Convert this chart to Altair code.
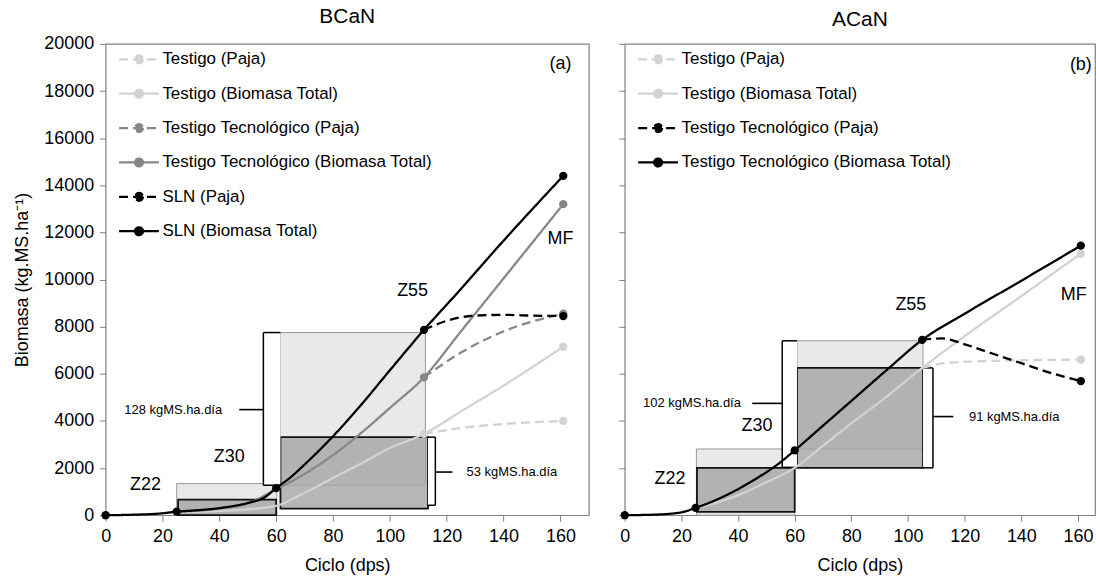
import altair as alt
import pandas as pd

FONT = "Liberation Sans"
LIGHT = "#d2d2d2"
MID = "#878787"
BLACK = "#000000"
DASH = [9, 5]
SOLID = [1, 0]

# ---------------- Panel (a) BCaN ----------------
a_series = ["Testigo (Paja)", "Testigo (Biomasa Total)", "Testigo Tecnológico (Paja)",
            "Testigo Tecnológico (Biomasa Total)", "SLN (Paja)", "SLN (Biomasa Total)"]
a_colors = [LIGHT, LIGHT, MID, MID, BLACK, BLACK]
a_dashes = [DASH, SOLID, DASH, SOLID, DASH, SOLID]
a_days = {
    "Testigo (Paja)": [112, 125, 140, 161],
    "Testigo (Biomasa Total)": [25, 40, 50, 60, 70, 80, 90, 100, 112, 125, 140, 161],
    "Testigo Tecnológico (Paja)": [112, 125, 140, 161],
    "Testigo Tecnológico (Biomasa Total)": [25, 40, 50, 60, 70, 80, 90, 100, 112, 125, 140, 161],
    "SLN (Paja)": [112, 120, 130, 140, 150, 161],
    "SLN (Biomasa Total)": [0, 10, 20, 25, 30, 40, 50, 56, 60, 65, 70, 80, 90, 100, 112, 125, 140, 161],
}
a_vals = {
    "Testigo (Paja)": [3450, 3700, 3870, 4000],
    "Testigo (Biomasa Total)": [120, 180, 250, 400, 950, 1580, 2200, 2850, 3450, 4400, 5500, 7150],
    "Testigo Tecnológico (Paja)": [5850, 6900, 7800, 8550],
    "Testigo Tecnológico (Biomasa Total)": [150, 280, 500, 1100, 1750, 2550, 3500, 4550, 5850, 7800, 10050, 13200],
    "SLN (Paja)": [7865, 8250, 8470, 8500, 8470, 8450],
    "SLN (Biomasa Total)": [0, 20, 80, 150, 190, 300, 520, 760, 1150, 1600, 2150, 3350, 4700, 6150, 7865, 9600, 11650, 14400],
}
a_marker_days = {
    "Testigo (Paja)": [161],
    "Testigo (Biomasa Total)": [112, 161],
    "Testigo Tecnológico (Paja)": [161],
    "Testigo Tecnológico (Biomasa Total)": [112, 161],
    "SLN (Paja)": [161],
    "SLN (Biomasa Total)": [0, 25, 60, 112, 161],
}
a_box_kind = ["light", "dark", "light", "dark"]
a_box_x0 = [25, 25.5, 61.5, 61.5]
a_box_x1 = [60.2, 60, 112.5, 113.4]
a_box_y0 = [0, 0, 1270, 280]
a_box_y1 = [1340, 660, 7750, 3310]
a_brace_xv = [55.5, 116]
a_brace_xh = [61.5, 113.4]
a_brace_xt = [47, 122]
a_brace_ytop = [7750, 3310]
a_brace_ybot = [1270, 420]
a_brace_ymid = [4480, 1830]
a_rate_text = ["128 kgMS.ha.día", "53 kgMS.ha.día"]
a_rate_x = [41, 127]
a_rate_y = [4480, 1830]
a_rate_align = ["right", "left"]
a_lab_text = ["Z22", "Z30", "Z55", "MF", "(a)"]
a_lab_x = [14, 43.5, 108, 160, 160]
a_lab_y = [1300, 2470, 9500, 11700, 19150]

# ---------------- Panel (b) ACaN ----------------
b_series = ["Testigo (Paja)", "Testigo (Biomasa Total)", "Testigo Tecnológico (Paja)",
            "Testigo Tecnológico (Biomasa Total)"]
b_colors = [LIGHT, LIGHT, BLACK, BLACK]
b_dashes = [DASH, SOLID, DASH, SOLID]
b_days = {
    "Testigo (Paja)": [105, 113, 130, 161],
    "Testigo (Biomasa Total)": [25, 30, 40, 50, 60, 70, 80, 90, 105, 120, 140, 161],
    "Testigo Tecnológico (Paja)": [105, 112, 120, 130, 140, 150, 161],
    "Testigo Tecnológico (Biomasa Total)": [0, 10, 20, 25, 35, 45, 55, 60, 70, 80, 92.7, 105, 120, 140, 161],
}
b_vals = {
    "Testigo (Paja)": [6250, 6450, 6550, 6600],
    "Testigo (Biomasa Total)": [310, 450, 850, 1400, 2010, 2950, 3900, 4800, 6250, 7600, 9300, 11100],
    "Testigo Tecnológico (Paja)": [7440, 7500, 7250, 6850, 6450, 6050, 5690],
    "Testigo Tecnológico (Biomasa Total)": [0, 20, 120, 310, 800, 1450, 2250, 2750, 3800, 4850, 6185, 7440, 8550, 9950, 11440],
}
b_marker_days = {
    "Testigo (Paja)": [161],
    "Testigo (Biomasa Total)": [161],
    "Testigo Tecnológico (Paja)": [161],
    "Testigo Tecnológico (Biomasa Total)": [0, 25, 60, 105, 161],
}
b_box_kind = ["light", "dark", "light", "dark"]
b_box_x0 = [25.3, 25.5, 60.8, 60.8]
b_box_x1 = [60, 60, 105.3, 105.3]
b_box_y0 = [0, 140, 2810, 2010]
b_box_y1 = [2810, 2010, 7400, 6250]
b_brace_xv = [55.6, 108.8]
b_brace_xh = [60.8, 105.3]
b_brace_xt = [45, 116]
b_brace_ytop = [7400, 6250]
b_brace_ybot = [2030, 2010]
b_brace_ymid = [4745, 4185]
b_rate_text = ["102 kgMS.ha.día", "91 kgMS.ha.día"]
b_rate_x = [41, 121.5]
b_rate_y = [4745, 4185]
b_rate_align = ["right", "left"]
b_lab_text = ["Z22", "Z30", "Z55", "MF", "(b)"]
b_lab_x = [16, 46.7, 101, 158.5, 161]
b_lab_y = [1545, 3790, 8915, 9335, 19100]

x_ticks = list(range(0, 161, 20))
y_ticks = list(range(0, 20001, 2000))

LEG_PATH = "M-1,0L1,0M0.2,0A0.2,0.2,0,1,1,-0.2,0A0.2,0.2,0,1,1,0.2,0Z"


def panel(series, colors, dashes, days, vals, mdays, boxes, braces, rates, labels,
          title, xmax, width, show_y):
    curve_rows, mark_rows = [], []
    for s in series:
        for d, v in zip(days[s], vals[s]):
            curve_rows.append({"series": s, "dia": d, "biomasa": v})
            if d in mdays[s]:
                mark_rows.append({"series": s, "dia": d, "biomasa": v})
    curves = pd.DataFrame(curve_rows)
    marks = pd.DataFrame(mark_rows)

    kind, bx0, bx1, by0, by1 = boxes
    box_df = pd.DataFrame({"kind": kind, "x0": bx0, "x1": bx1, "y0": by0, "y1": by1})
    xv, xh, xt, ytop, ybot, ymid = braces
    brace_df = pd.DataFrame({"xv": xv, "xh": xh, "xt": xt, "ytop": ytop, "ybot": ybot, "ymid": ymid})
    rt, rx, ry, ra = rates
    rate_df = pd.DataFrame({"t": rt, "x": rx, "y": ry, "align": ra})
    lt, lx, ly = labels
    lab_df = pd.DataFrame({"t": lt, "x": lx, "y": ly})

    xs = alt.Scale(domain=[0, xmax], nice=False, zero=False)
    ys = alt.Scale(domain=[0, 20000], nice=False)
    xaxis = alt.Axis(values=x_ticks, title="Ciclo (dps)", grid=False, labelFlush=False)
    if show_y:
        yaxis = alt.Axis(values=y_ticks, format="d", title="Biomasa (kg.MS.ha⁻¹)",
                         grid=False, labelFlush=False)
    else:
        yaxis = alt.Axis(values=y_ticks, labels=False, title=None, grid=False)

    def X(f):
        return alt.X(f, type="quantitative", scale=xs, axis=xaxis)

    def Y(f):
        return alt.Y(f, type="quantitative", scale=ys, axis=yaxis)

    leg = alt.Legend(title=None, orient="none", legendX=12, legendY=-6,
                     symbolType=LEG_PATH, symbolSize=1600, symbolStrokeWidth=2.2,
                     labelFont=FONT, labelFontSize=17, labelColor="black",
                     labelOffset=2, rowPadding=4.5, padding=0, labelLimit=400)

    light = alt.Chart(box_df).transform_filter(alt.datum.kind == "light").mark_rect(
        fill="#e9e9e9", stroke="#9a9a9a", strokeWidth=1).encode(
        x=X("x0"), x2="x1", y=Y("y0"), y2="y1")
    dark = alt.Chart(box_df).transform_filter(alt.datum.kind == "dark").mark_rect(
        fill="#a6a6a6", fillOpacity=0.82, stroke="#111111", strokeWidth=1.8).encode(
        x=X("x0"), x2="x1", y=Y("y0"), y2="y1")
    brace_bg = alt.Chart(brace_df).mark_rect(fill="white", strokeWidth=0).encode(
        x=X("xv"), x2="xh", y=Y("ytop"), y2="ybot")
    brace_v = alt.Chart(brace_df).mark_rule(color="black", strokeWidth=1.5).encode(
        x=X("xv"), y=Y("ytop"), y2="ybot")
    brace_top = alt.Chart(brace_df).mark_rule(color="black", strokeWidth=1.5).encode(
        x=X("xv"), x2="xh", y=Y("ytop"))
    brace_bot = alt.Chart(brace_df).mark_rule(color="black", strokeWidth=1.5).encode(
        x=X("xv"), x2="xh", y=Y("ybot"))
    tip = alt.Chart(brace_df).mark_rule(color="black", strokeWidth=1.6).encode(
        x=X("xv"), x2="xt", y=Y("ymid"))

    lines = alt.Chart(curves).mark_line(strokeWidth=2.3, interpolate="monotone").encode(
        x=X("dia"), y=Y("biomasa"),
        stroke=alt.Stroke("series:N", scale=alt.Scale(domain=series, range=colors), legend=leg),
        strokeDash=alt.StrokeDash("series:N", scale=alt.Scale(domain=series, range=dashes), legend=leg),
    )
    pts = alt.Chart(marks).mark_point(filled=True, size=70, opacity=1).encode(
        x=X("dia"), y=Y("biomasa"),
        fill=alt.Fill("series:N", scale=alt.Scale(domain=series, range=colors), legend=leg),
    )

    rate_layers = []
    for al in ["left", "right"]:
        rate_layers.append(
            alt.Chart(rate_df).transform_filter(alt.datum.align == al).mark_text(
                font=FONT, fontSize=13, align=al, baseline="middle", color="black").encode(
                x=X("x"), y=Y("y"), text="t:N"))
    labs = alt.Chart(lab_df).mark_text(font=FONT, fontSize=18, align="center",
                                       baseline="middle", color="black").encode(
        x=X("x"), y=Y("y"), text="t:N")

    return alt.layer(light, dark, brace_bg, brace_v, brace_top, brace_bot, tip,
                     lines, pts, *rate_layers, labs).properties(
        width=width, height=473,
        title=alt.TitleParams(title, font=FONT, fontSize=21, fontWeight="normal", color="black", offset=8))


pa = panel(a_series, a_colors, a_dashes, a_days, a_vals, a_marker_days,
           (a_box_kind, a_box_x0, a_box_x1, a_box_y0, a_box_y1),
           (a_brace_xv, a_brace_xh, a_brace_xt, a_brace_ytop, a_brace_ybot, a_brace_ymid),
           (a_rate_text, a_rate_x, a_rate_y, a_rate_align),
           (a_lab_text, a_lab_x, a_lab_y),
           "BCaN", 170, 485, True)
pb = panel(b_series, b_colors, b_dashes, b_days, b_vals, b_marker_days,
           (b_box_kind, b_box_x0, b_box_x1, b_box_y0, b_box_y1),
           (b_brace_xv, b_brace_xh, b_brace_xt, b_brace_ytop, b_brace_ybot, b_brace_ymid),
           (b_rate_text, b_rate_x, b_rate_y, b_rate_align),
           (b_lab_text, b_lab_x, b_lab_y),
           "ACaN", 166, 472, False)

chart = alt.hconcat(pa, pb, spacing=27).resolve_scale(
    stroke="independent", fill="independent", strokeDash="independent",
    x="independent", y="independent",
).properties(
    padding={"left": 13, "top": 4, "right": 0, "bottom": 5},
    background="white",
).configure_view(
    stroke="#808080", strokeWidth=1.2
).configure_axis(
    labelFont=FONT, labelFontSize=18, labelColor="black",
    titleFont=FONT, titleFontSize=18, titleFontWeight="normal", titleColor="black",
    tickColor="#808080", tickSize=6, domain=False, labelPadding=6, titlePadding=12,
)

chart.save("out.html", embed_options={"renderer": "svg", "actions": False})
